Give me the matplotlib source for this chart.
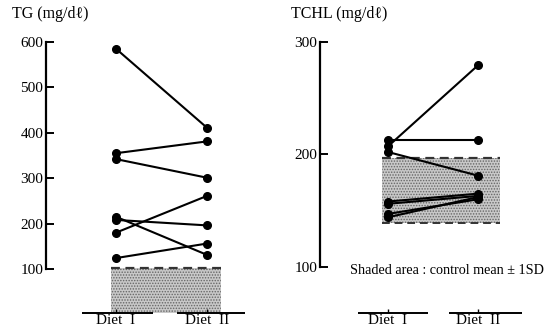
import matplotlib
matplotlib.use("Agg")
import matplotlib.pyplot as plt

plt.rcParams['font.family'] = ['Liberation Serif', 'DejaVu Serif']
plt.rcParams['hatch.linewidth'] = 0.7

diets = ["Diet  I", "Diet  II"]
x_pos = [0, 1]

# TG (mg/dl) per subject: (Diet I, Diet II)
tg_diet1 = [585, 355, 342, 180, 215, 208, 124]
tg_diet2 = [411, 381, 301, 261, 131, 196, 156]
tg_ticks = [100, 200, 300, 400, 500, 600]
tg_shade = (3, 103)

# TCHL (mg/dl)
tc_diet1 = [207, 213, 202, 158, 156, 147, 144]
tc_diet2 = [279, 213, 181, 165, 163, 160, 162]
tc_ticks = [100, 200, 300]
tc_shade = (138.5, 196.5)

W, H = 557, 336
fig = plt.figure(figsize=(W / 100, H / 100), dpi=100)


def px_axes(left, top, right, bottom):
    return fig.add_axes([left / W, 1 - bottom / H, (right - left) / W, (bottom - top) / H])


def setup(ax, xlim, ylim, spine_x, ticks, seg1, seg2, shade, shade_x, dashed_bottom):
    ax.set_xlim(*xlim)
    ax.set_ylim(*ylim)
    ax.patch.set_alpha(0)
    for s in ["top", "right", "bottom"]:
        ax.spines[s].set_visible(False)
    ax.spines["left"].set_position(("data", spine_x))
    ax.spines["left"].set_bounds(ticks[0], ticks[-1])
    ax.spines["left"].set_linewidth(1.6)
    ax.set_yticks(ticks)
    ax.tick_params(axis="y", direction="in", length=6, width=1.4, labelsize=11, pad=2)
    ax.set_xticks(x_pos)
    ax.set_xticklabels(diets, fontsize=11)
    ax.tick_params(axis="x", direction="in", length=3, width=1, pad=1)
    # broken baseline segments
    ax.hlines(ylim[0], seg1[0], seg1[1], color="black", lw=1.4, clip_on=False)
    ax.hlines(ylim[0], seg2[0], seg2[1], color="black", lw=1.4, clip_on=False)
    # shaded area
    ax.fill_between(shade_x, shade[0], shade[1], color="#c8c8c8", lw=0, zorder=1)
    ax.fill_between(shade_x, shade[0], shade[1], facecolor="none", edgecolor="#666666",
                    hatch="......", lw=0, zorder=1)
    ax.hlines(shade[1], shade_x[0], shade_x[1], colors="#333333", linestyles=(0, (4, 2.5)),
              lw=1.6, zorder=2)
    if dashed_bottom:
        ax.hlines(shade[0], shade_x[0], shade_x[1], colors="#333333", linestyles=(0, (4, 2.5)),
                  lw=1.4, zorder=2)


# Left panel (TG)
ax1 = px_axes(43.2, 32.9, 248, 313)
setup(ax1, (-0.8, 1.45), (3, 620), -0.77, tg_ticks, (-0.374, 0.41), (0.67, 1.42),
      tg_shade, [-0.05, 1.15], False)
for a, b in zip(tg_diet1, tg_diet2):
    ax1.plot(x_pos, [a, b], color="black", lw=1.5, marker="o", ms=5.5, zorder=3)
fig.text(12 / W, 1 - 14 / H, "TG (mg/dℓ)", fontsize=11.5, va="center", ha="left")

# Right panel (TCHL)
ax2 = px_axes(316, 30.4, 523, 313)
setup(ax2, (-0.8, 1.5), (59, 310), -0.756, tc_ticks, (-0.333, 0.444), (0.678, 1.489),
      tc_shade, [-0.067, 1.244], True)
for a, b in zip(tc_diet1, tc_diet2):
    ax2.plot(x_pos, [a, b], color="black", lw=1.5, marker="o", ms=5.5, zorder=3)
fig.text(291 / W, 1 - 14 / H, "TCHL (mg/dℓ)", fontsize=11.5, va="center", ha="left")
fig.text(350 / W, 1 - 270 / H, "Shaded area : control mean ± 1SD", fontsize=10.2,
         va="center", ha="left")

fig.savefig("out.png", dpi=100)
